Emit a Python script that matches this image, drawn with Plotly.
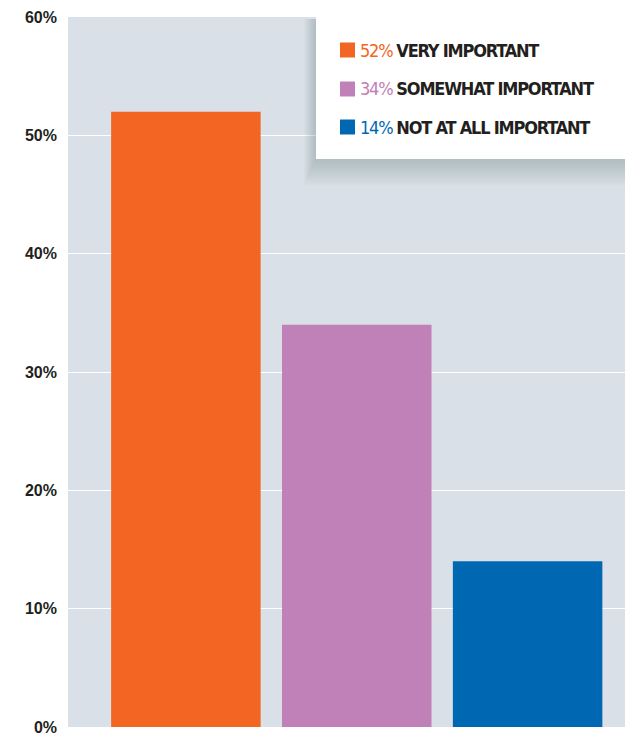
import plotly.graph_objects as go

# Survey answers and their shares (percent)
categories = ["VERY IMPORTANT", "SOMEWHAT IMPORTANT", "NOT AT ALL IMPORTANT"]
shares = [52, 34, 14]
colors = ["#f26522", "#c080b8", "#0068b3"]
y_ticks = [0, 10, 20, 30, 40, 50, 60]
y_tick_labels = [f"<b>{v}%</b>" for v in y_ticks]

x_pos = list(range(len(categories)))

W, H = 625, 736
M_L, M_R, M_T, M_B = 68, 0, 17, 9

fig = go.Figure(
    go.Bar(
        x=x_pos,
        y=shares,
        marker=dict(color=colors, line=dict(width=0)),
        width=0.875,
        hoverinfo="skip",
    )
)

fig.update_layout(
    width=W,
    height=H,
    margin=dict(l=M_L, r=M_R, t=M_T, b=M_B),
    paper_bgcolor="white",
    plot_bgcolor="#dae0e7",
    showlegend=False,
    xaxis=dict(
        range=[-0.69, 2.57],
        showticklabels=False,
        showgrid=False,
        zeroline=False,
        fixedrange=True,
    ),
    yaxis=dict(
        range=[0, 60],
        tickvals=y_ticks,
        ticktext=y_tick_labels,
        showgrid=True,
        gridcolor="white",
        gridwidth=1,
        zeroline=False,
        ticks="",
        ticklabelstandoff=10,
        tickfont=dict(family="Liberation Sans, Arial, sans-serif", size=16, color="#231f20"),
    ),
)

# Legend panel: white box with a soft drop shadow in the plot's top-right corner
plot_w = W - M_L - M_R
plot_h = H - M_T - M_B


def px_x(v):
    return (v - M_L) / plot_w


def px_y(v):
    return 1 - (v - M_T) / plot_h


box_x0, box_x1 = 316, 625
box_y0, box_y1 = 17, 159

shapes = []
for i in range(12, 0, -1):
    shapes.append(dict(
        type="rect", xref="paper", yref="paper",
        x0=px_x(box_x0 - i * 1.0), x1=px_x(box_x1 + 5),
        y0=px_y(box_y1 + i * 2.2), y1=px_y(box_y0 + 2),
        fillcolor="rgba(120,130,145,0.035)", line=dict(width=0), layer="above",
    ))
shapes.append(dict(
    type="rect", xref="paper", yref="paper",
    x0=px_x(box_x0), x1=px_x(box_x1 + 5),
    y0=px_y(box_y1), y1=px_y(box_y0 - 2),
    fillcolor="white", line=dict(width=0), layer="above",
))

label_style = "font-stretch:condensed;letter-spacing:-1.2px"

annotations = []
row_y = [50, 89, 127]
for cat, val, col, ry in zip(categories, shares, colors, row_y):
    shapes.append(dict(
        type="rect", xref="paper", yref="paper",
        x0=px_x(340), x1=px_x(355), y0=px_y(ry + 7.5), y1=px_y(ry - 7.5),
        fillcolor=col, line=dict(width=0), layer="above",
    ))
    annotations.append(dict(
        xref="paper", yref="paper", x=px_x(358), y=px_y(ry),
        xanchor="left", yanchor="middle", showarrow=False,
        text=(f"<span style='{label_style};color:{col}'>{val}%</span>"
              f"<span style='{label_style}'> <b>{cat}</b></span>"),
        font=dict(family="DejaVu Sans, sans-serif", size=18, color="#231f20"),
    ))

fig.update_layout(shapes=shapes, annotations=annotations)

fig.write_html("out.html")
